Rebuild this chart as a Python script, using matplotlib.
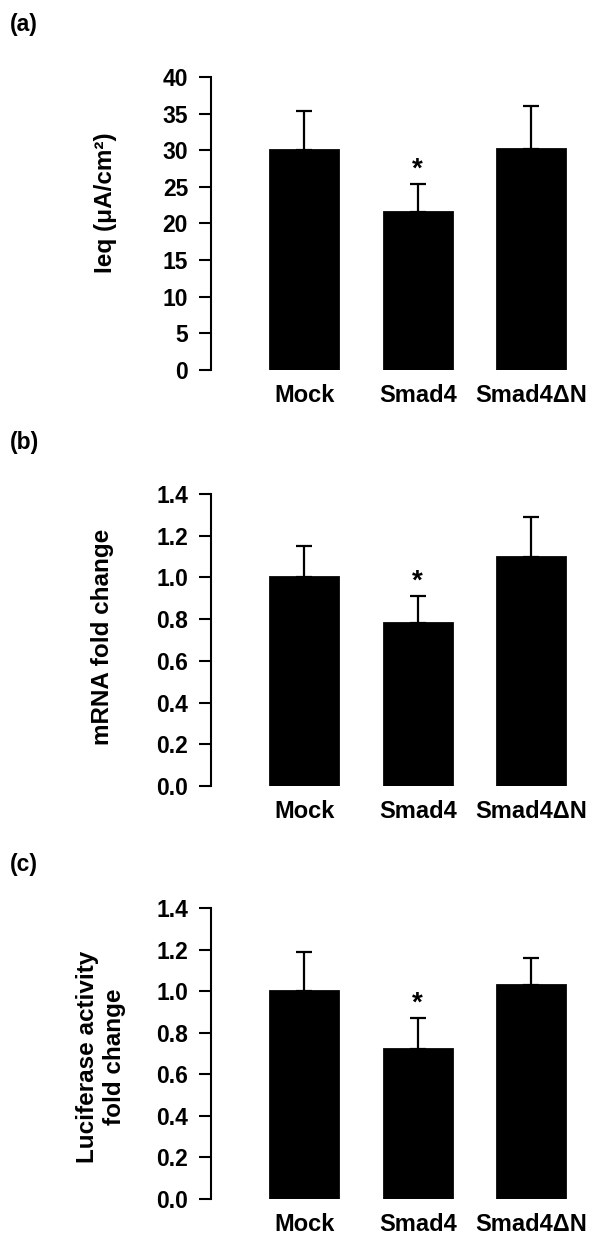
import matplotlib
matplotlib.use("Agg")
import matplotlib.pyplot as plt
import numpy as np

plt.rcParams['font.family'] = ['Liberation Sans', 'DejaVu Sans']
plt.rcParams['font.weight'] = 'bold'

categories = ["Mock", "Smad4", "Smad4\u0394N"]

ieq_means = [30.0, 21.6, 30.2]
ieq_upper = [35.4, 25.4, 36.0]

mrna_means = [1.00, 0.78, 1.10]
mrna_upper = [1.15, 0.91, 1.29]

luc_means = [1.00, 0.72, 1.03]
luc_upper = [1.19, 0.87, 1.16]

ieq_ticks = [0, 5, 10, 15, 20, 25, 30, 35, 40]
fold_ticks = [0.0, 0.2, 0.4, 0.6, 0.8, 1.0, 1.2, 1.4]

panels = [
    dict(letter="(a)", means=ieq_means, upper=ieq_upper, ticks=ieq_ticks,
         fmt="{:.0f}", ylabel="Ieq (\u03bcA/cm\u00b2)", rect=[0.3517, 0.7002, 0.60, 0.2374],
         letter_y=1 - 25 / 1234, label_x=-0.262, label_y=0.57, star=1),
    dict(letter="(b)", means=mrna_means, upper=mrna_upper, ticks=fold_ticks,
         fmt="{:.1f}", ylabel="mRNA fold change", rect=[0.3517, 0.3630, 0.60, 0.2367],
         letter_y=1 - 443 / 1234, label_x=-0.27, label_y=0.51, star=1),
    dict(letter="(c)", means=luc_means, upper=luc_upper, ticks=fold_ticks,
         fmt="{:.1f}", ylabel="Luciferase activity\nfold change", rect=[0.3517, 0.0284, 0.60, 0.2358],
         letter_y=1 - 864 / 1234, label_x=-0.235, label_y=0.49, star=1),
]

fig = plt.figure(figsize=(6.0, 12.34), dpi=100)

for p in panels:
    ax = fig.add_axes(p["rect"])
    x = np.arange(len(categories))
    means = np.array(p["means"])
    upper = np.array(p["upper"])
    err = upper - means
    ax.bar(x, means, width=0.60, color="black", edgecolor="black", linewidth=2.0, zorder=2)
    ax.errorbar(x, means, yerr=[np.zeros_like(err), err], fmt="none",
                ecolor="black", elinewidth=1.6, capsize=6, capthick=1.6, zorder=1)
    i = p["star"]
    ax.annotate("*", xy=(x[i], upper[i]), xytext=(0, 1), textcoords="offset points",
                ha="center", va="bottom", fontsize=20, fontweight="bold")
    ax.set_xlim(-0.82, 2.35)
    ax.set_ylim(p["ticks"][0], p["ticks"][-1])
    ax.set_yticks(p["ticks"])
    ax.set_yticklabels([p["fmt"].format(t) for t in p["ticks"]])
    ax.set_xticks(x)
    ax.set_xticklabels(categories)
    for s in ["top", "right", "bottom"]:
        ax.spines[s].set_visible(False)
    ax.spines["left"].set_linewidth(1.5)
    ax.tick_params(axis="y", direction="out", length=8.5, width=1.5, pad=8, labelsize=16.5)
    ax.tick_params(axis="x", length=0, pad=10, labelsize=17)
    for lab in ax.get_xticklabels() + ax.get_yticklabels():
        lab.set_fontweight("bold")
    ax.set_ylabel(p["ylabel"], fontsize=17.5, fontweight="bold", linespacing=1.25)
    ax.yaxis.set_label_coords(p["label_x"], p["label_y"])
    fig.text(10 / 600, p["letter_y"], p["letter"], fontsize=16.5, fontweight="bold",
             ha="left", va="center")

fig.savefig("out.png", dpi=100)
